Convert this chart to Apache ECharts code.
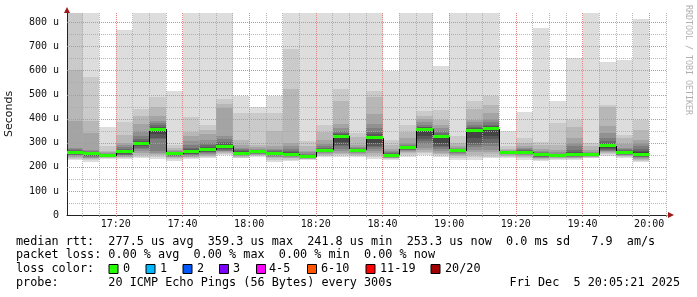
<!DOCTYPE html>
<html><head><meta charset="utf-8">
<script src="https://cdn.jsdelivr.net/npm/echarts@6/dist/echarts.min.js"></script>
<style>html,body{margin:0;padding:0;background:#fff}#c{width:697px;height:297px}</style>
</head><body><div id="c"></div><script>
// ---- data ----
const stepTimes = ["17:05","17:10","17:15","17:20","17:25","17:30","17:35","17:40","17:45","17:50",
  "17:55","18:00","18:05","18:10","18:15","18:20","18:25","18:30","18:35","18:40",
  "18:45","18:50","18:55","19:00","19:05","19:10","19:15","19:20","19:25","19:30",
  "19:35","19:40","19:45","19:50","19:55"];
// 20 sorted ping RTTs (microseconds) per 5-minute step
const pings = [
  [229,233,237,241,245,248,251,254,257,260,262,264,267,270,274,280,389,604,838,838],
  [222,227,231,235,238,241,244,247,250,253,255,257,259,262,266,272,341,389,572,838],
  [233,236,238,240,241,242,243,244,245,246,248,249,251,253,255,258,262,268,285,368],
  [231,236,240,243,246,249,251,254,257,260,263,266,270,276,282,290,299,333,385,771],
  [236,243,250,258,266,274,280,285,290,294,298,301,307,315,330,350,380,410,440,838],
  [232,240,248,254,258,265,318,322,335,356,360,363,368,374,382,392,410,451,490,838],
  [226,231,236,240,243,245,247,249,251,253,255,256,257,259,262,266,272,280,290,517],
  [231,236,240,243,246,249,252,255,258,261,264,268,273,280,290,306,330,345,407,838],
  [238,243,247,251,254,257,260,263,266,269,273,277,283,290,300,312,335,355,375,838],
  [250,254,258,262,265,268,271,275,279,283,288,292,298,305,318,330,445,460,482,838],
  [235,238,241,244,246,248,250,252,254,256,259,262,265,269,274,280,290,312,425,493],
  [243,246,248,250,252,254,256,258,260,262,264,265,267,269,272,276,282,292,426,451],
  [222,230,236,240,243,246,248,250,252,254,256,259,262,265,270,276,285,351,425,496],
  [223,230,235,239,242,244,246,248,250,252,255,258,262,268,275,285,299,522,691,838],
  [229,231,233,234,235,236,237,238,239,241,243,246,248,251,255,260,268,285,306,838],
  [243,247,251,255,258,260,262,264,266,268,270,272,275,279,285,295,312,347,375,838],
  [243,248,253,258,265,275,285,292,305,324,328,332,336,342,350,360,378,472,524,838],
  [243,247,251,255,258,261,263,265,267,269,271,272,274,276,278,282,290,326,340,838],
  [232,242,250,257,265,275,282,288,300,319,323,328,335,345,360,380,420,489,517,838],
  [229,232,235,237,239,240,241,243,245,247,249,251,253,256,260,265,275,292,312,597],
  [243,250,256,262,266,269,272,274,276,278,280,282,284,287,292,299,320,347,375,838],
  [250,256,263,270,280,295,308,315,330,354,358,361,364,368,375,385,398,412,433,838],
  [243,248,253,258,265,275,283,288,300,323,326,329,334,340,348,360,375,396,437,618],
  [230,238,245,250,255,258,261,263,265,267,269,270,271,273,275,278,285,300,330,838],
  [228,240,250,260,270,282,290,300,320,349,353,357,362,368,375,385,396,440,476,838],
  [235,243,252,262,272,285,300,315,330,357,362,365,369,375,385,400,424,458,493,838],
  [236,241,246,249,252,254,256,258,259,260,261,262,263,264,265,267,270,275,285,350],
  [229,236,242,246,249,252,254,256,258,260,262,265,268,271,274,278,285,299,319,429],
  [223,227,232,236,239,241,243,245,247,249,251,253,255,257,260,265,275,290,305,776],
  [228,232,236,238,240,241,242,243,244,245,247,248,250,252,255,260,270,290,384,476],
  [229,232,235,238,240,242,244,246,248,250,254,257,263,272,285,300,320,365,397,653],
  [236,238,240,242,244,246,247,248,249,250,252,253,254,256,259,263,270,285,300,838],
  [245,252,258,262,265,268,272,276,280,285,290,294,300,308,320,340,370,450,458,635],
  [236,240,244,247,249,251,253,255,257,259,261,263,266,269,273,280,295,319,333,646],
  [219,225,230,234,237,240,243,246,249,252,256,260,267,275,285,300,312,354,393,817]
];
const medians = [261,254,247,262,296,357,254,262,271,285,257,263,255,252,241.8,269,327,270,322,249,
  279,356,325,268,351,359.3,261,261,250,246,250,251,288,260,253.3];
const xLabelTimes = ["17:20","17:40","18:00","18:20","18:40","19:00","19:20","19:40","20:00"];
const yLabelValues = [0,100,200,300,400,500,600,700,800];
const yMinorValues = [50,100,150,200,250,300,350,400,450,500,550,600,650,700,750,800];
const viewStart = "17:05:21", viewEnd = "20:05:21";
const statsMedian = "median rtt:  277.5 us avg  359.3 us max  241.8 us min  253.3 us now  0.0 ms sd   7.9  am/s";
const statsLoss   = "packet loss: 0.00 % avg  0.00 % max  0.00 % min  0.00 % now";
const lossLabels  = ["0","1","2","3","4-5","6-10","11-19","20/20"];
const lossColors  = ["#26ff00","#00b8ff","#0059ff","#7e00ff","#ff00ff","#ff5500","#ff0000","#a00000"];
const probeText   = "probe:       20 ICMP Echo Pings (56 Bytes) every 300s";
const dateText    = "Fri Dec  5 20:05:21 2025";

// ---- helpers ----
const STEP = 5;
function toMin(s){ const p = s.split(":").map(Number); return (p[0]-17)*60 + p[1] + (p[2]||0)/60; }
function fmtMin(v){ const h = 17 + Math.floor(v/60), m = Math.round(v%60); return h + ":" + String(m).padStart(2,"0"); }
const xMin = toMin(viewStart), xMax = toMin(viewEnd);
const fiveMinTicks = []; for (let v = Math.ceil(xMin/STEP)*STEP; v <= xMax; v += STEP) fiveMinTicks.push(v);
const layerColors = []; for (let i = 1; i <= 10; i++) { const c = Math.floor(190/10*(10-i))+50; layerColors.push("rgb("+c+","+c+","+c+")"); }

const smokeData = stepTimes.map((t,i) => [toMin(t)].concat(pings[i]));
const medianData = stepTimes.map((t,i) => [toMin(t), medians[i], i > 0 ? medians[i-1] : medians[i]]);

const MONO = '"DejaVu Sans Mono", monospace';
const chart = echarts.init(document.getElementById('c'), null, {renderer:'canvas'});

function renderSmoke(params, api){
  const t = api.value(0);
  const cs = params.coordSys;
  const children = [];
  for (let i = 1; i <= 10; i++) {
    const lo = api.value(i), hi = api.value(21 - i);
    const a = api.coord([t, hi]), b = api.coord([t + STEP, lo]);
    const x0 = Math.round(a[0]), x1 = Math.round(b[0]);
    const y0 = Math.round(a[1]), y1 = Math.round(b[1]);
    const r = echarts.graphic.clipRectByRect({x:x0, y:y0, width:x1-x0, height:Math.max(y1-y0,1)},
      {x:cs.x, y:cs.y, width:cs.width, height:cs.height});
    if (r) children.push({type:'rect', shape:r, style:{fill:layerColors[i-1]}});
  }
  return {type:'group', children};
}
function renderMedian(params, api){
  const t = api.value(0), m = api.value(1), pm = api.value(2);
  const cs = params.coordSys;
  const a = api.coord([t, m]), b = api.coord([t + STEP, m]), p = api.coord([t, pm]);
  const x0 = Math.round(a[0]), x1 = Math.round(b[0]);
  const children = [];
  if (params.dataIndex > 0 && x0 >= cs.x) {
    children.push({type:'line', shape:{x1:x0+0.5, y1:Math.round(p[1]), x2:x0+0.5, y2:Math.round(a[1])},
      style:{stroke:'#000', lineWidth:1}});
  }
  const r = echarts.graphic.clipRectByRect({x:x0, y:Math.round(a[1]-1.5), width:x1-x0, height:3},
    {x:cs.x, y:cs.y, width:cs.width, height:cs.height});
  if (r) children.push({type:'rect', shape:r, style:{fill:lossColors[0]}});
  return {type:'group', children};
}

const graphics = [
  {type:'polygon', shape:{points:[[64,13],[70,13],[67,7]]}, style:{fill:'#a01818'}, z:10},
  {type:'polygon', shape:{points:[[668,212],[668,218],[674,215]]}, style:{fill:'#a01818'}, z:10},
  {type:'text', x:688, y:60, rotation:-Math.PI/2, style:{text:'RRDTOOL / TOBI OETIKER', font:'8.3px '+MONO, fill:'#b0b0b0', align:'center', verticalAlign:'middle'}},
  {type:'text', x:16, y:241.5, style:{text:statsMedian, font:'11.8px '+MONO, fill:'#000', verticalAlign:'middle'}},
  {type:'text', x:16, y:255, style:{text:statsLoss, font:'11.8px '+MONO, fill:'#000', verticalAlign:'middle'}},
  {type:'text', x:16, y:269, style:{text:'loss color:', font:'11.8px '+MONO, fill:'#000', verticalAlign:'middle'}},
  {type:'text', x:16, y:282.5, style:{text:probeText, font:'11.8px '+MONO, fill:'#000', verticalAlign:'middle'}},
  {type:'text', x:680, y:282.5, style:{text:dateText, font:'11.8px '+MONO, fill:'#000', align:'right', verticalAlign:'middle'}}
];
const swatchX = [108.5,145.5,182.5,219,256,307,365.5,430.5];
const swatchLabelX = [123,160,197,233,269,321,380,445];
lossLabels.forEach((lab,i) => {
  graphics.push({type:'rect', shape:{x:swatchX[i]+0.5, y:264.5, width:9, height:9}, style:{fill:lossColors[i], stroke:'#000', lineWidth:1}});
  graphics.push({type:'text', x:swatchLabelX[i], y:269, style:{text:lab, font:'11.8px '+MONO, fill:'#000', verticalAlign:'middle'}});
});

const option = {
  backgroundColor:'#fff',
  animation:false,
  grid:{left:67, right:30, top:13, bottom:82, containLabel:false, outerBoundsMode:'none'},
  xAxis:[
    {type:'value', min:xMin, max:xMax, z:2,
      axisLine:{show:true, onZero:false, lineStyle:{color:'#222', width:1}},
      axisTick:{show:true, length:2, customValues:fiveMinTicks, lineStyle:{color:'#888'}},
      axisLabel:{show:false},
      splitLine:{show:true, lineStyle:{color:'rgba(170,170,170,0.85)', type:[1,1], width:1}}},
    {type:'value', min:xMin, max:xMax, position:'bottom', z:3,
      axisLine:{show:false},
      axisTick:{show:false, customValues:xLabelTimes.map(toMin)},
      axisLabel:{show:true, customValues:xLabelTimes.map(toMin), formatter:fmtMin, margin:4,
        fontFamily:'DejaVu Sans Mono', fontSize:10, color:'#111'},
      splitLine:{show:true, lineStyle:{color:'rgba(240,120,120,0.75)', type:[1,1], width:1}}}
  ],
  yAxis:[
    {type:'value', min:0, max:840, z:2,
      axisLine:{show:true, lineStyle:{color:'#222', width:1}},
      axisTick:{show:false, customValues:yMinorValues},
      axisLabel:{show:false},
      splitLine:{show:true, lineStyle:{color:'rgba(170,170,170,0.85)', type:[1,1], width:1}}},
    {type:'value', min:0, max:840, position:'left', z:3,
      name:'Seconds', nameLocation:'middle', nameGap:52,
      nameTextStyle:{fontFamily:'DejaVu Sans', fontSize:11, color:'#111'},
      axisLine:{show:false},
      axisTick:{show:false, customValues:yLabelValues.filter(v=>v>0)},
      axisLabel:{show:true, customValues:yLabelValues, margin:8,
        formatter:v => v === 0 ? '0' : v + ' u',
        fontFamily:'DejaVu Sans Mono', fontSize:10, color:'#111'},
      splitLine:{show:true, lineStyle:{color:'rgba(240,120,120,0.75)', type:[1,1], width:1}}}
  ],
  series:[
    {type:'custom', name:'smoke', z:1, xAxisIndex:0, yAxisIndex:0, renderItem:renderSmoke,
      encode:{x:0, y:1}, data:smokeData, silent:true},
    {type:'custom', name:'median', z:4, xAxisIndex:0, yAxisIndex:0, renderItem:renderMedian,
      encode:{x:0, y:1}, data:medianData, silent:true}
  ],
  graphic:graphics
};
chart.setOption(option);
</script></body></html>
